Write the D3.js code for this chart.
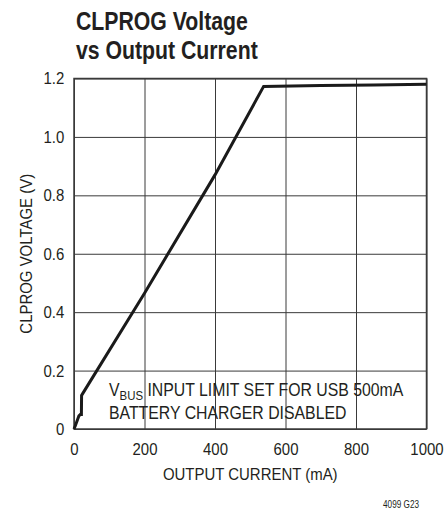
<!DOCTYPE html>
<html>
<head>
<meta charset="utf-8">
<script src="https://cdn.jsdelivr.net/npm/d3@7"></script>
<style>
    body { margin: 0; background: #fff; }
    svg text { font-family: "Liberation Sans", Arial, sans-serif; fill: #231f20; }
</style>
</head>
<body>
<div class="visHolder"></div>
<script>
// data
const current = [0, 4, 14, 18, 21, 21.5, 25, 200, 400, 538, 700, 850, 1000];
const voltage = [0, 0.012, 0.045, 0.05, 0.05, 0.115, 0.122, 0.465, 0.87, 1.173, 1.176, 1.178, 1.18];
const xTicks = [0, 200, 400, 600, 800, 1000];
const yTicks = [0, 0.2, 0.4, 0.6, 0.8, 1.0, 1.2];

const width = 445,
    height = 512,
    plotLeft = 74,
    plotRight = 426.5,
    plotTop = 78.5,
    plotBottom = 429,
    narrow = 0.88; // squeeze text to look like a condensed face

const svg = d3.select('.visHolder')
    .append('svg')
    .attr('width', width)
    .attr('height', height);

const xScale = d3.scaleLinear().domain([0, 1000]).range([plotLeft, plotRight]);
const yScale = d3.scaleLinear().domain([0, 1.2]).range([plotBottom, plotTop]);

// grid + tick labels
const xAxis = d3.axisBottom(xScale)
    .tickValues(xTicks)
    .tickSizeInner(-(plotBottom - plotTop))
    .tickSizeOuter(0)
    .tickPadding(14)
    .tickFormat(d3.format('d'));

const gx = svg.append('g')
    .attr('id', 'x-axis')
    .attr('transform', `translate(0,${plotBottom})`)
    .call(xAxis);

const yAxis = d3.axisLeft(yScale)
    .tickValues(yTicks)
    .tickSizeInner(-(plotRight - plotLeft))
    .tickSizeOuter(0)
    .tickPadding(11)
    .tickFormat(d => d === 0 ? '0' : d3.format('.1f')(d));

const gy = svg.append('g')
    .attr('id', 'y-axis')
    .attr('transform', `translate(${plotLeft},0)`)
    .call(yAxis);

[gx, gy].forEach(g => {
    g.select('.domain').remove();
    g.selectAll('line').attr('stroke', '#3a3a3a').attr('stroke-width', 1);
    g.selectAll('text')
        .style('font-size', '17px')
        .attr('fill', '#231f20')
        .attr('transform', `scale(${narrow},1)`);
});

// frame
svg.append('rect')
    .attr('x', plotLeft)
    .attr('y', plotTop)
    .attr('width', plotRight - plotLeft)
    .attr('height', plotBottom - plotTop)
    .attr('fill', 'none')
    .attr('stroke', '#3a3a3a')
    .attr('stroke-width', 1.5);

// curve
const line = d3.line()
    .x((d, i) => xScale(current[i]))
    .y(d => yScale(d));

svg.append('path')
    .datum(voltage)
    .attr('d', line)
    .attr('fill', 'none')
    .attr('stroke', '#1a1a1a')
    .attr('stroke-width', 3)
    .attr('stroke-linejoin', 'miter');

// title
const title = svg.append('text')
    .attr('transform', 'translate(76,30) scale(0.85,1)')
    .style('font-size', '25px')
    .style('font-weight', 'bold');
title.append('tspan').attr('x', 0).text('CLPROG Voltage');
title.append('tspan').attr('x', 0).attr('dy', 29).text('vs Output Current');

// axis titles
svg.append('text')
    .attr('transform', `translate(${(plotLeft + plotRight) / 2},480) scale(${narrow},1)`)
    .attr('text-anchor', 'middle')
    .style('font-size', '17px')
    .text('OUTPUT CURRENT (mA)');

svg.append('text')
    .attr('transform', `translate(32,${(plotTop + plotBottom) / 2}) rotate(-90) scale(${narrow},1)`)
    .attr('text-anchor', 'middle')
    .style('font-size', '17px')
    .text('CLPROG VOLTAGE (V)');

// annotation
const note = svg.append('text')
    .attr('transform', `translate(109,396) scale(${narrow},1)`)
    .style('font-size', '18px');
note.append('tspan').text('V');
note.append('tspan').attr('dy', 4).style('font-size', '13px').text('BUS');
note.append('tspan').attr('dy', -4).text(' INPUT LIMIT SET FOR USB 500mA');

svg.append('text')
    .attr('transform', `translate(109,419) scale(${narrow},1)`)
    .style('font-size', '18px')
    .text('BATTERY CHARGER DISABLED');

svg.append('text')
    .attr('transform', 'translate(419,508) scale(0.82,1)')
    .attr('text-anchor', 'end')
    .style('font-size', '10px')
    .text('4099 G23');
</script>
</body>
</html>
